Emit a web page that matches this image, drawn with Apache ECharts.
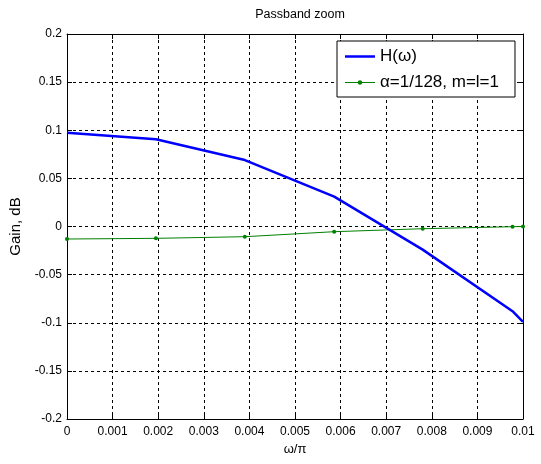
<!DOCTYPE html>
<html>
<head>
<meta charset="utf-8">
<script src="https://cdn.jsdelivr.net/npm/echarts@6/dist/echarts.min.js"></script>
<style>html,body{margin:0;padding:0;background:#fff}#c{width:541px;height:464px}</style>
</head>
<body>
<div id="c"></div>
<script>
var hX = [0, 0.00195, 0.0039, 0.00586, 0.0078, 0.00977, 0.01];
var hY = [0.0975, 0.0906, 0.069, 0.031, -0.024, -0.088, -0.099];
var aX = [0, 0.00195, 0.0039, 0.00586, 0.0078, 0.00977, 0.01];
var aY = [-0.013, -0.0123, -0.0106, -0.0054, -0.0023, -0.0002, 0.0];
var xTickLabels = ['0','0.001','0.002','0.003','0.004','0.005','0.006','0.007','0.008','0.009','0.01'];
var yTickLabels = ['-0.2','-0.15','-0.1','-0.05','0','0.05','0.1','0.15','0.2'];

var FONT = '"Liberation Sans", Arial, sans-serif';
function pairs(xs, ys){ return xs.map(function(x,i){ return [x, ys[i]]; }); }

var chart = echarts.init(document.getElementById('c'), null, {renderer:'canvas'});
var gridLine = {show:true, lineStyle:{color:'#000', width:1, type:[3,3]}};
var tick = {show:true, inside:true, length:5, lineStyle:{color:'#000'}};
var axisLine = {show:true, onZero:false, lineStyle:{color:'#000', width:1}};
var iconH = 'path://M0,0 M30,14 M0,5.75 L30,5.75 L30,8.25 L0,8.25 Z';
var iconA = 'path://M0,0 M30,14 M0,6.5 L13,6.5 L13,7.5 L0,7.5 Z M17,6.5 L30,6.5 L30,7.5 L17,7.5 Z M12.8,7 A2.2,2.2 0 1 1 17.2,7 A2.2,2.2 0 1 1 12.8,7 Z';
chart.setOption({
  animation:false,
  backgroundColor:'#fff',
  title:{text:'Passband zoom', left:295, top:3, textAlign:'center',
    textStyle:{fontFamily:FONT, fontSize:12.5, fontWeight:'normal', color:'#000'}},
  grid:{left:67, right:18, top:34, bottom:45},
  legend:{
    left:337, top:41, orient:'vertical',
    padding:[7,16,6,8], itemGap:9, itemWidth:30, itemHeight:14,
    backgroundColor:'#fff', borderColor:'#000', borderWidth:1, borderRadius:0,
    textStyle:{fontFamily:FONT, fontSize:17, color:'#000'},
    data:[{name:'H(\u03c9)', icon:iconH}, {name:'\u03b1=1/128, m=l=1', icon:iconA}]
  },
  xAxis:[{
    type:'value', min:0, max:0.01, interval:0.001,
    name:'\u03c9/\u03c0', nameLocation:'middle', nameGap:24,
    nameTextStyle:{fontFamily:FONT, fontSize:13, color:'#000'},
    axisLine:axisLine, axisTick:tick, splitLine:gridLine,
    axisLabel:{fontFamily:FONT, fontSize:12, color:'#000', margin:7,
      formatter:function(v){ return xTickLabels[Math.round(v/0.001)]; }}
  },{
    type:'value', position:'top', min:0, max:0.01, interval:0.001,
    axisLine:axisLine, axisTick:tick, splitLine:{show:false}, axisLabel:{show:false}
  }],
  yAxis:[{
    type:'value', min:-0.2, max:0.2, interval:0.05,
    name:'Gain, dB', nameLocation:'middle', nameGap:38,
    nameTextStyle:{fontFamily:FONT, fontSize:15, color:'#000'},
    axisLine:axisLine, axisTick:tick, splitLine:gridLine,
    axisLabel:{fontFamily:FONT, fontSize:12, color:'#000', margin:5,
      formatter:function(v){ return yTickLabels[Math.round((v+0.2)/0.05)]; }}
  },{
    type:'value', position:'right', min:-0.2, max:0.2, interval:0.05,
    axisLine:axisLine, axisTick:tick, splitLine:{show:false}, axisLabel:{show:false}
  }],
  series:[{
    name:'H(\u03c9)', type:'line', data:pairs(hX,hY),
    showSymbol:false, symbol:'none', color:'#0000ff',
    lineStyle:{color:'#0000ff', width:2.5}, z:3
  },{
    name:'\u03b1=1/128, m=l=1', type:'line', data:pairs(aX,aY),
    symbol:'circle', symbolSize:4, color:'#008000',
    itemStyle:{color:'#008000'},
    lineStyle:{color:'#008000', width:1}, z:2
  }]
});
</script>
</body>
</html>
